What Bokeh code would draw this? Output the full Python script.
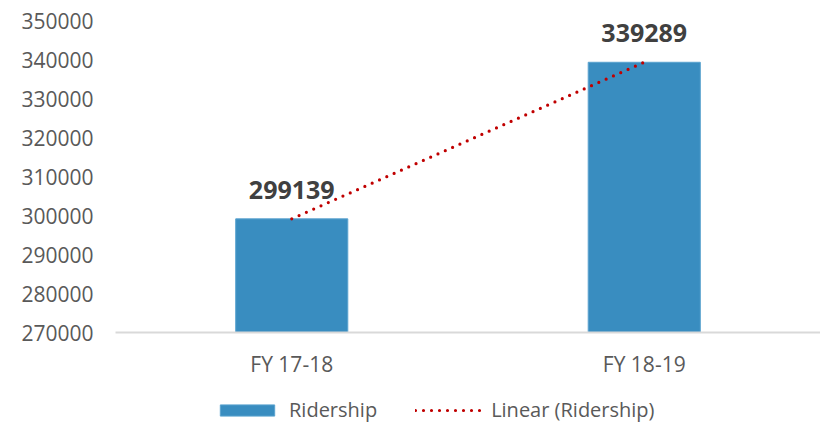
import numpy as np
from bokeh.plotting import figure
from bokeh.layouts import column
from bokeh.models import (Range1d, FactorRange, FixedTicker, BasicTickFormatter,
                          Legend, LegendItem, ColumnDataSource)
from bokeh.core.properties import value
from bokeh.embed import file_html
from bokeh.resources import INLINE

categories = ["FY 17-18", "FY 18-19"]
ridership = [299139, 339289]
y_ticks = [270000, 280000, 290000, 300000, 310000, 320000, 330000, 340000, 350000]
legend_labels = ["Ridership", "Linear (Ridership)"]

FONT = "Open Sans"
TXT = "#595959"
BAR = dict(fill_color="#398dc0", line_color="#5aa3cf", line_width=1)
TREND = dict(line_color="#c00000", line_width=3.2, line_dash="0 8", line_cap="round")

p = figure(x_range=FactorRange(*categories), y_range=Range1d(270000, 350000),
           width=820, height=380, min_border_top=20, min_border_left=115,
           min_border_right=0, min_border_bottom=46,
           output_backend="svg", toolbar_location=None, outline_line_color=None)
p.xgrid.visible = False
p.ygrid.visible = False

src = ColumnDataSource(dict(cat=categories, val=ridership, lbl=[str(v) for v in ridership]))
bars = p.vbar(x="cat", top="val", bottom=270000, width=0.318, source=src, **BAR)

# linear trendline fitted to the series
xi = np.arange(1, len(ridership) + 1)
coef = np.polyfit(xi, ridership, 1)
trend = list(np.polyval(coef, xi))
tsrc = ColumnDataSource(dict(cat=categories, trend=trend))
trend_line = p.line(x="cat", y="trend", source=tsrc, **TREND)

p.text(x="cat", y="val", text="lbl", source=src, text_align="center",
       text_baseline="alphabetic", y_offset=-29, text_font=value(FONT),
       text_font_style="bold", text_font_size="25px", text_color="#404040")

p.yaxis.ticker = FixedTicker(ticks=y_ticks)
p.yaxis.formatter = BasicTickFormatter(use_scientific=False)
p.yaxis.axis_line_color = None
p.yaxis.major_tick_line_color = None
p.yaxis.minor_tick_line_color = None
p.yaxis.major_tick_out = 0
p.yaxis.major_label_standoff = 22
p.yaxis.major_label_text_font = FONT
p.yaxis.major_label_text_font_size = "21px"
p.yaxis.major_label_text_color = TXT

p.xaxis.axis_line_color = "#d9d9d9"
p.xaxis.axis_line_width = 2
p.xaxis.major_tick_line_color = None
p.xaxis.major_tick_out = 0
p.xaxis.major_label_standoff = 17
p.xaxis.major_label_text_font = FONT
p.xaxis.major_label_text_font_size = "21px"
p.xaxis.major_label_text_color = TXT

# legend strip below the chart (series lie out of view, below it; only the legend shows)
lg = figure(width=820, height=43, x_range=FactorRange(*categories), y_range=Range1d(400000, 500000),
            x_axis_type=None, y_axis_type=None, min_border=0,
            output_backend="svg", toolbar_location=None, outline_line_color=None)
lg.xgrid.visible = False
lg.ygrid.visible = False
lbar = lg.vbar(x="cat", top="val", bottom=270000, width=0.318, source=src, **BAR)
lline = lg.line(x="cat", y="trend", source=tsrc, **TREND)
legend = Legend(items=[LegendItem(label=legend_labels[0], renderers=[lbar]),
                       LegendItem(label=legend_labels[1], renderers=[lline])],
                orientation="horizontal", location=(98, 0),
                glyph_width=68, glyph_height=14, label_standoff=8, spacing=38,
                padding=0, margin=0, border_line_color=None, background_fill_alpha=0,
                label_text_font=FONT, label_text_font_size="20px", label_text_color=TXT)
lg.add_layout(legend, "center")

layout = column(p, lg, spacing=0)
open("out.html", "w").write(file_html(layout, INLINE))
